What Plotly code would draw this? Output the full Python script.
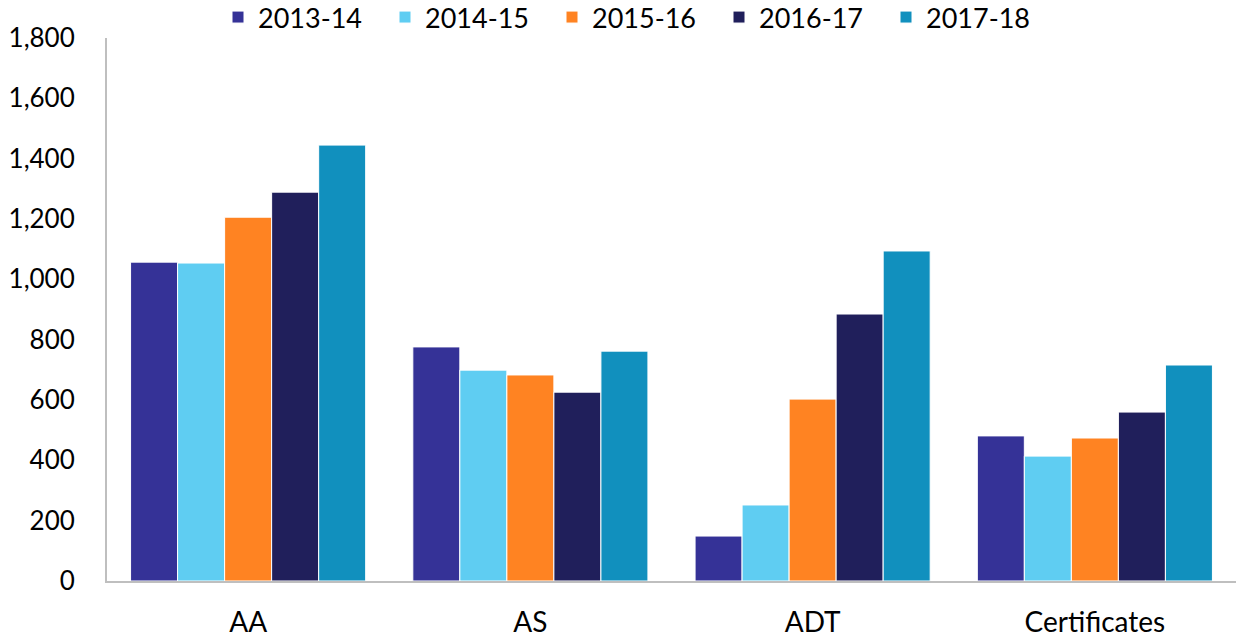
import plotly.graph_objects as go

categories = ["AA", "AS", "ADT", "Certificates"]
series_names = ["2013-14", "2014-15", "2015-16", "2016-17", "2017-18"]
v_2013_14 = [1057, 776, 149, 481]
v_2014_15 = [1054, 699, 252, 414]
v_2015_16 = [1206, 683, 603, 474]
v_2016_17 = [1289, 626, 885, 560]
v_2017_18 = [1445, 762, 1094, 716]
colors = ["#353297", "#5FCDF2", "#FF8322", "#201F5B", "#1190BE"]

values = [v_2013_14, v_2014_15, v_2015_16, v_2016_17, v_2017_18]

fig = go.Figure()
for name, vals, col in zip(series_names, values, colors):
    fig.add_trace(go.Bar(x=categories, y=vals, name=name, marker_color=col,
                         marker_line_color="white", marker_line_width=1))

font_family = "Lato, 'Open Sans', sans-serif"
fig.update_layout(
    width=1238, height=639,
    margin=dict(l=107, r=2, t=38, b=58, autoexpand=False),
    paper_bgcolor="white", plot_bgcolor="white",
    barmode="group", bargap=0.167, bargroupgap=0.0,
    font=dict(family=font_family, size=26, color="black"),
    legend=dict(orientation="h", xref="container", yref="container",
                x=0.1761, xanchor="left", y=0.9726, yanchor="middle",
                font=dict(size=27), entrywidth=122, entrywidthmode="pixels",
                traceorder="normal", bgcolor="rgba(0,0,0,0)"),
    xaxis=dict(showline=True, linecolor="#BFBFBF", linewidth=2, ticks="",
               tickfont=dict(size=28), showgrid=False, ticklabelstandoff=15),
    yaxis=dict(range=[0, 1800], dtick=200, tickformat=",", showline=True,
               linecolor="#BFBFBF", linewidth=2, showgrid=False, ticks="",
               tickfont=dict(size=26), zeroline=False, ticklabelstandoff=25),
)
fig.write_html("out.html", config={"displayModeBar": False},
               post_script="document.body.style.margin='0';")
